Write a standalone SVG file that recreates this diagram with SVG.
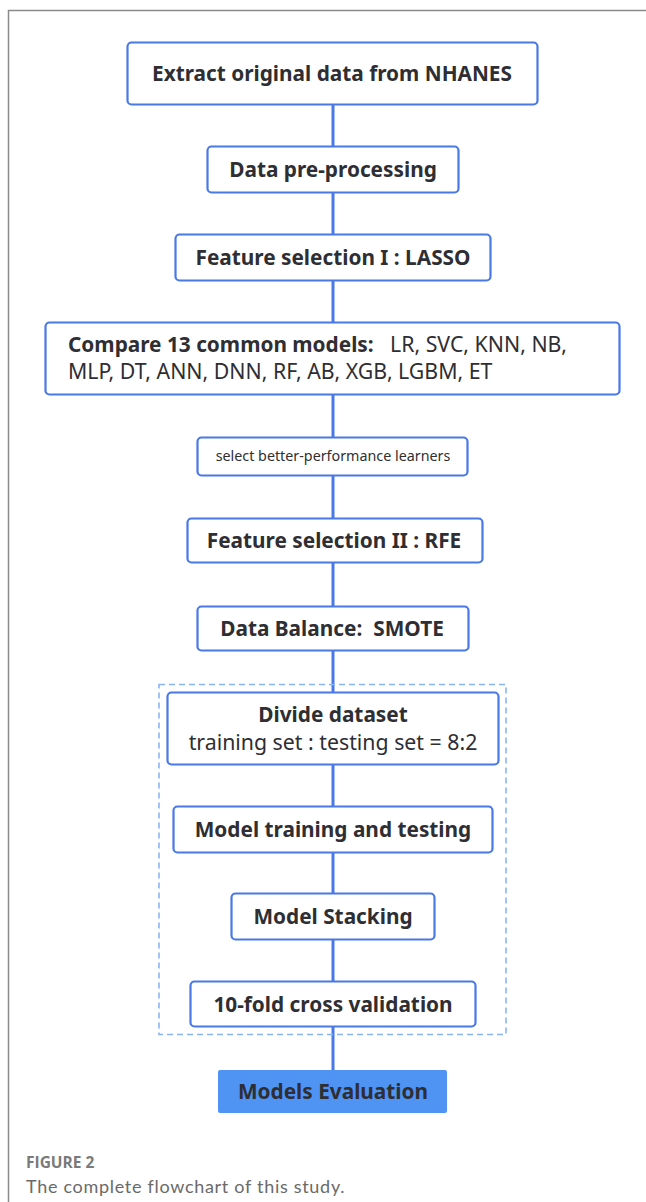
<svg xmlns="http://www.w3.org/2000/svg" width="646" height="1202" viewBox="0 0 646 1202">
<style>
.box{fill:#ffffff;stroke:#4a78e6;stroke-width:2.2}
.t{font-family:"Noto Sans","Open Sans",sans-serif;font-weight:bold;fill:#2e2e33;text-anchor:middle;font-size:20.8px}
.n{font-family:"Noto Sans","Open Sans",sans-serif;fill:#2e2e33;font-size:21.3px}
.s{font-family:"Noto Sans","Open Sans",sans-serif;fill:#2e2e33;font-size:14.3px;text-anchor:middle}
.conn{stroke:#4a78e6;stroke-width:3;fill:none}
</style>
<rect x="0" y="0" width="646" height="1202" fill="#ffffff"/>
<path d="M8.5 1202 V10.5 H646" fill="none" stroke="#8a8a8a" stroke-width="1.5"/>
<g id="connectors">
<line class="conn" x1="333" y1="104" x2="333" y2="146"/>
<line class="conn" x1="333" y1="192" x2="333" y2="234"/>
<line class="conn" x1="333" y1="280" x2="333" y2="322"/>
<line class="conn" x1="333" y1="394" x2="333" y2="437"/>
<line class="conn" x1="333" y1="475" x2="333" y2="518"/>
<line class="conn" x1="333" y1="562" x2="333" y2="606"/>
<line class="conn" x1="333" y1="650" x2="333" y2="692"/>
<line class="conn" x1="333" y1="764" x2="333" y2="806"/>
<line class="conn" x1="333" y1="852" x2="333" y2="893"/>
<line class="conn" x1="333" y1="939" x2="333" y2="981"/>
<line class="conn" x1="333" y1="1027" x2="333" y2="1070"/>
</g>
<g id="group-dashed">
<rect x="159" y="684.5" width="347" height="350" fill="none" stroke="#8ab4f8" stroke-width="1.6" stroke-dasharray="6,4"/>
</g>
<g id="n1">
<rect class="box" x="127.5" y="42.5" width="410" height="62" rx="4" stroke-width="3"/>
<text class="t" x="332" y="81">Extract original data from NHANES</text>
</g>
<g id="n2">
<rect class="box" x="207.5" y="146.5" width="251" height="46" rx="4"/>
<text class="t" x="333" y="177">Data pre-processing</text>
</g>
<g id="n3">
<rect class="box" x="175.5" y="234.5" width="315" height="46" rx="4"/>
<text class="t" x="333" y="265">Feature selection I : LASSO</text>
</g>
<g id="n4">
<rect class="box" x="45.5" y="322.5" width="574" height="72" rx="4"/>
<text class="n" x="68" y="352"><tspan style="font-weight:bold;font-size:20.8px">Compare 13 common models:</tspan><tspan x="390">LR, SVC, KNN, NB,</tspan></text>
<text class="n" x="68" y="379">MLP, DT, ANN, DNN, RF, AB, XGB, LGBM, ET</text>
</g>
<g id="n5">
<rect class="box" x="197.5" y="437.5" width="270" height="38" rx="4" stroke="#7aa6f5"/>
<text class="s" x="333" y="461">select better-performance learners</text>
</g>
<g id="n6">
<rect class="box" x="187.5" y="518.5" width="295" height="44" rx="4"/>
<text class="t" x="334" y="548">Feature selection II : RFE</text>
</g>
<g id="n7">
<rect class="box" x="197.5" y="606.5" width="271" height="44" rx="4"/>
<text class="t" x="332" y="636">Data Balance:<tspan dx="11">SMOTE</tspan></text>
</g>
<g id="n8">
<rect class="box" x="167.5" y="692.5" width="331" height="72" rx="4"/>
<text class="t" x="333" y="722">Divide dataset</text>
<text class="n" x="333" y="750" text-anchor="middle">training set : testing set = 8:2</text>
</g>
<g id="n9">
<rect class="box" x="173.5" y="806.5" width="319" height="46" rx="4"/>
<text class="t" x="333" y="837">Model training and testing</text>
</g>
<g id="n10">
<rect class="box" x="231.5" y="893.5" width="203" height="46" rx="4"/>
<text class="t" x="333" y="924">Model Stacking</text>
</g>
<g id="n11">
<rect class="box" x="190.5" y="981.5" width="285" height="45" rx="4"/>
<text class="t" x="333" y="1012">10-fold cross validation</text>
</g>
<g id="n12">
<rect x="218" y="1070" width="229" height="43" rx="2" fill="#4f93f3"/>
<text class="t" x="333" y="1099">Models Evaluation</text>
</g>
<g id="caption">
<text x="26" y="1168" font-family="'Open Sans','Noto Sans',sans-serif" font-weight="bold" font-size="15.5" fill="#7a7a7a">FIGURE 2</text>
<text x="26" y="1193" font-family="Lato,'Open Sans',sans-serif" font-size="18" letter-spacing="0.7" fill="#6a6a6a">The complete flowchart of this study.</text>
</g>
</svg>
